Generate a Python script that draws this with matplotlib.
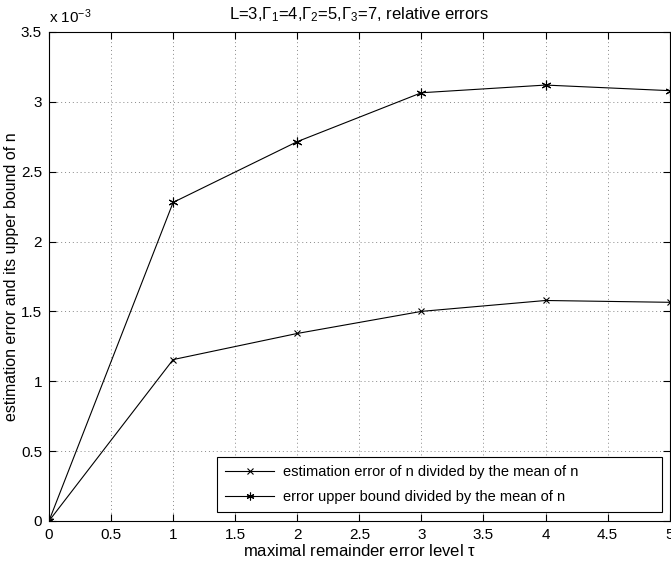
import matplotlib
matplotlib.use("Agg")
import matplotlib.pyplot as plt
import numpy as np

fam = 'Liberation Sans'
plt.rcParams['font.family'] = [fam, 'DejaVu Sans']
plt.rcParams['mathtext.fontset'] = 'custom'
plt.rcParams['mathtext.rm'] = fam
plt.rcParams['mathtext.it'] = fam

# data (values in units of 1e-3)
tau = [0, 1, 2, 3, 4, 5]
est_err = [0.0, 1.155, 1.342, 1.500, 1.578, 1.565]
upper_bound = [0.0, 2.280, 2.715, 3.065, 3.120, 3.080]

fig = plt.figure(figsize=(6.71, 5.61), dpi=100)
ax = fig.add_axes([0.073, 0.0714, 0.925, 0.8716])

ax.plot(tau, est_err, color='black', lw=0.8, marker='x', ms=5, mew=0.8,
        label='estimation error of n divided by the mean of n')
ax.plot(tau, upper_bound, color='black', lw=0.8, marker=(6, 2, 0), ms=7, mew=0.8,
        label='error upper bound divided by the mean of n')

ax.set_xlim(0, 5)
ax.set_ylim(0, 3.5)
ax.set_xticks(np.arange(0, 5.01, 0.5))
ax.set_yticks(np.arange(0, 3.51, 0.5))
ax.set_xticklabels(['0', '0.5', '1', '1.5', '2', '2.5', '3', '3.5', '4', '4.5', '5'])
ax.set_yticklabels(['0', '0.5', '1', '1.5', '2', '2.5', '3', '3.5'])
ax.grid(True, linestyle=(0, (1, 3)), color='#888888', lw=0.7)
ax.tick_params(direction='in', top=True, right=True, labelsize=11, length=5,
               width=0.8, pad=5)
for s in ax.spines.values():
    s.set_linewidth(0.8)

ax.text(0.0, 1.012, r'x 10$^{-3}$', transform=ax.transAxes, fontsize=11,
        ha='left', va='bottom')
ax.set_title(r'L=3,$\Gamma_1$=4,$\Gamma_2$=5,$\Gamma_3$=7, relative errors',
             fontsize=12, pad=9)
ax.set_xlabel(r'maximal remainder error level $\tau$', fontsize=12, labelpad=1)
ax.set_ylabel('estimation error and its upper bound of n', fontsize=11.5,
              va='center')
ax.yaxis.set_label_coords(-0.06, 0.5)

leg = ax.legend(loc='lower left', bbox_to_anchor=(0.2705, 0.018, 0.7165, 0.117),
                mode='expand', borderaxespad=0, fontsize=10.5,
                fancybox=False, edgecolor='black', framealpha=1,
                handlelength=3.4, borderpad=0.55, labelspacing=0.75,
                handletextpad=0.6, markerscale=0.8)
leg.get_frame().set_linewidth(0.8)

fig.savefig('out.png', dpi=100)
